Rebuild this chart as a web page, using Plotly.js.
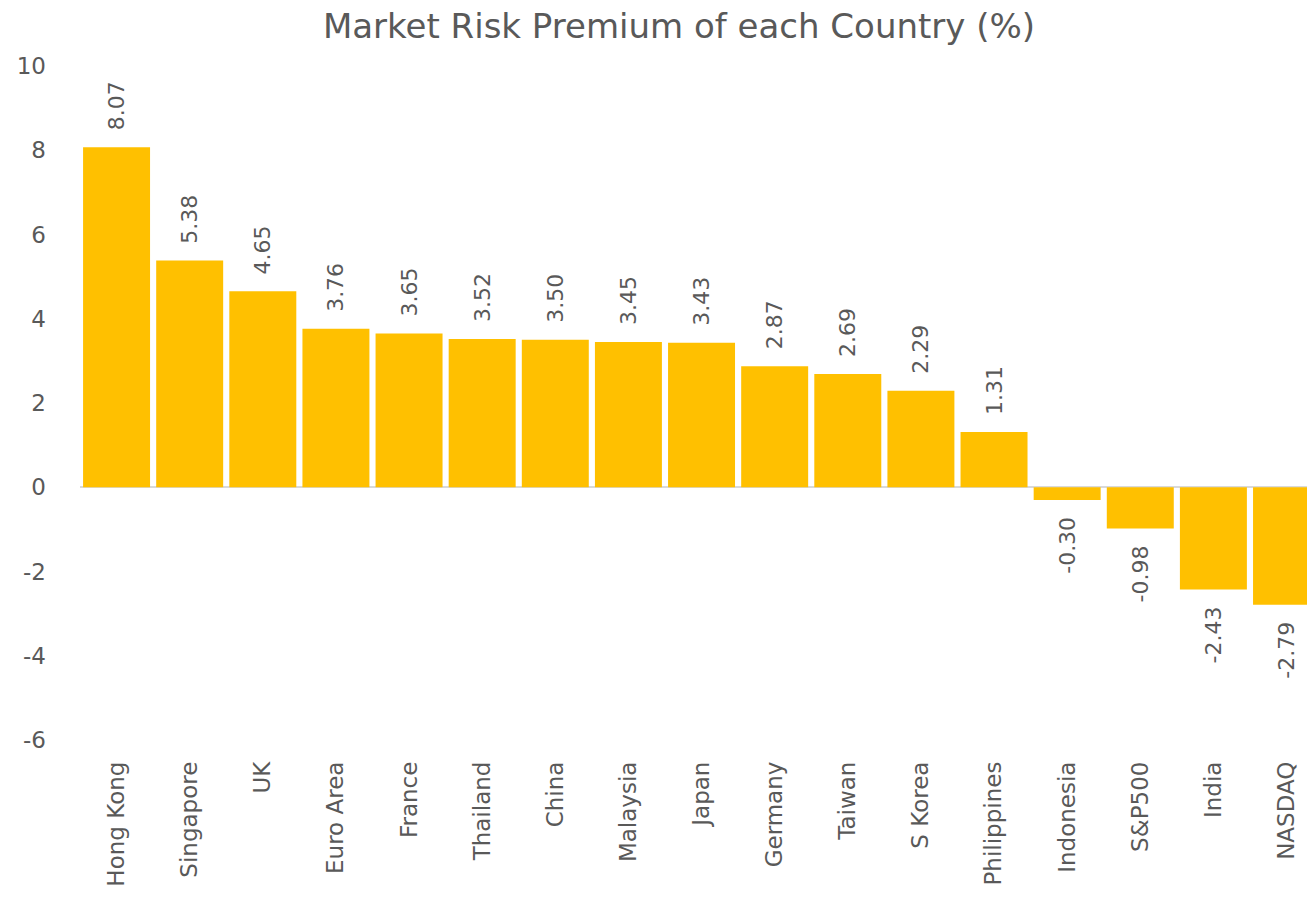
<!DOCTYPE html>
<html>
<head>
<meta charset="utf-8">
<script src="https://cdn.plot.ly/plotly-3.0.1.min.js"></script>
<style>html,body{margin:0;padding:0;background:#fff;}#chart{width:1307px;height:920px;}</style>
</head>
<body>
<div id="chart"></div>
<script>
const categories = ["Hong Kong","Singapore","UK","Euro Area","France","Thailand","China","Malaysia","Japan","Germany","Taiwan","S Korea","Philippines","Indonesia","S&P500","India","NASDAQ"];
const premiums = [8.07,5.38,4.65,3.76,3.65,3.52,3.50,3.45,3.43,2.87,2.69,2.29,1.31,-0.30,-0.98,-2.43,-2.79];
const yTicks = [-6,-4,-2,0,2,4,6,8,10];

const FONT = "DejaVu Sans";
const GREY = "#595959";
const PAD = "\u00a0\u00a0";

const trace = {
  type: "bar",
  x: categories,
  y: premiums,
  marker: {color: "#FFC000"},
  text: premiums.map(v => v >= 0 ? PAD + v.toFixed(2) : v.toFixed(2) + PAD),
  textposition: "outside",
  textangle: -90,
  constraintext: "none",
  cliponaxis: false,
  textfont: {family: FONT, size: 22, color: GREY},
  hoverinfo: "x+y"
};

const layout = {
  width: 1307, height: 920,
  margin: {l: 80, r: 0, t: 66, b: 180},
  paper_bgcolor: "#fff", plot_bgcolor: "#fff",
  showlegend: false,
  bargap: 0.084,
  title: {text: "Market Risk Premium of each Country (%)", x: 0.5195, xanchor: "center", y: 0.972, yanchor: "middle",
          font: {family: FONT, size: 34, color: GREY}},
  xaxis: {
    type: "category",
    range: [-0.5, 16.28],
    tickangle: -90,
    tickfont: {family: FONT, size: 23, color: GREY},
    showgrid: false, showline: false, zeroline: false,
    ticks: "", ticklabelstandoff: 16
  },
  yaxis: {
    range: [-6, 10],
    tickvals: yTicks,
    ticktext: yTicks.map(String),
    tickfont: {family: FONT, size: 23, color: GREY},
    showgrid: false, showline: false,
    zeroline: true, zerolinecolor: "#d9d9d9", zerolinewidth: 2,
    ticks: "", ticklabelstandoff: 33
  }
};

Plotly.newPlot("chart", [trace], layout, {displayModeBar: false, staticPlot: true});
</script>
</body>
</html>
